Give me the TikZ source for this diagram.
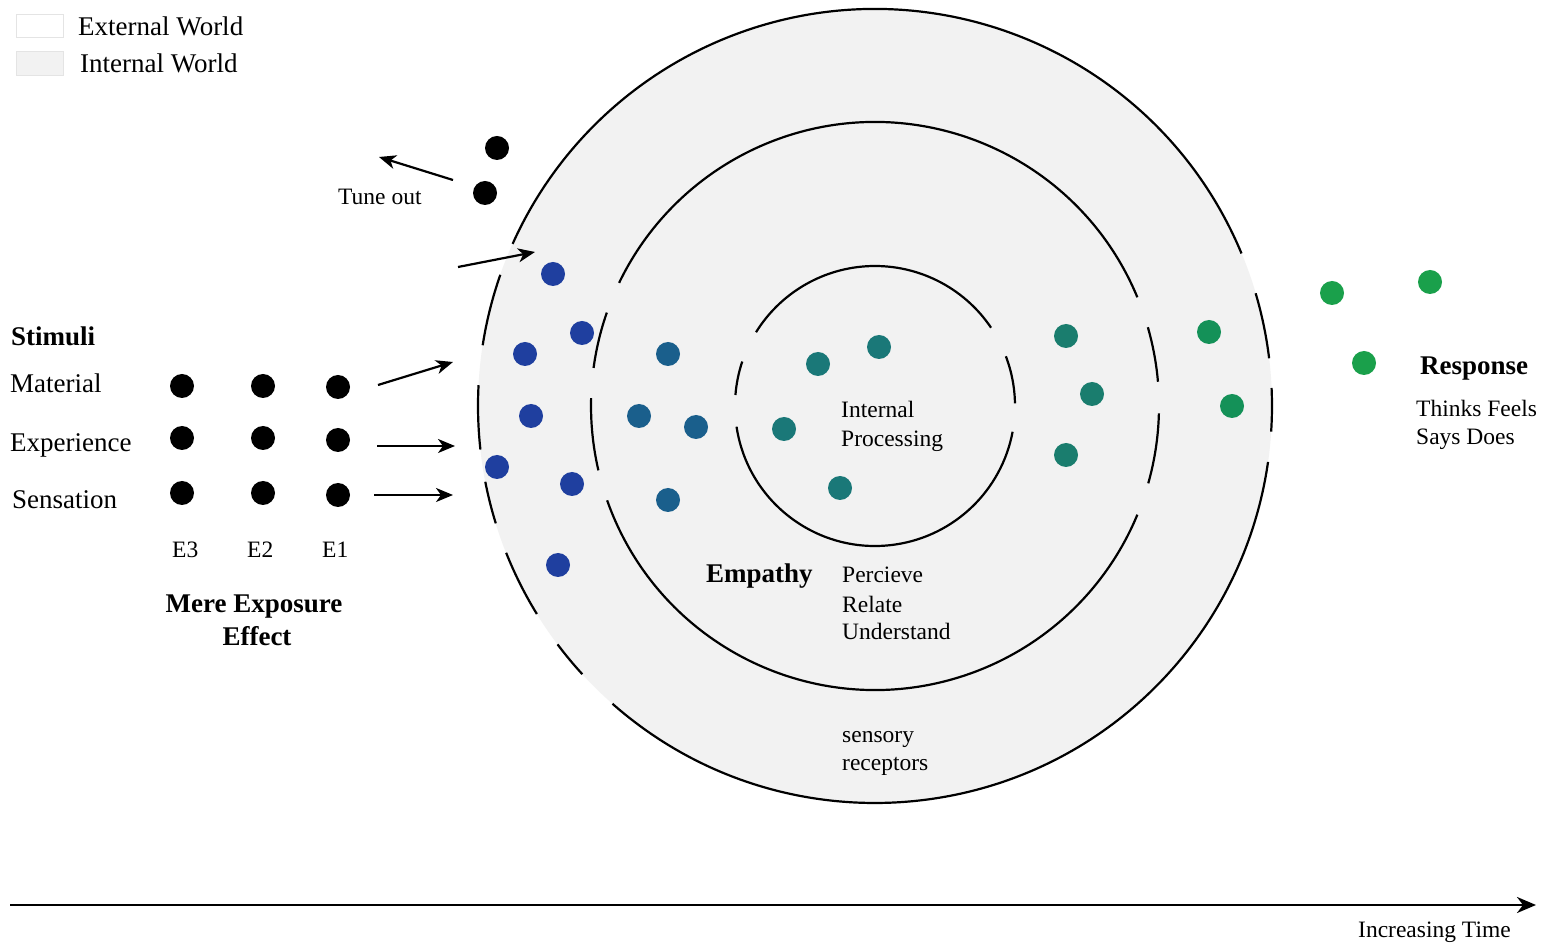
\documentclass[tikz,border=0pt]{standalone}
\usepackage{fontspec}
\setmainfont{Liberation Serif}
\usetikzlibrary{arrows.meta}
\definecolor{ingray}{HTML}{F2F2F2}
\definecolor{legline}{HTML}{E4E4E4}
\definecolor{cblue}{HTML}{1F3F9F}
\definecolor{cmblue}{HTML}{1A5F8C}
\definecolor{cteal}{HTML}{1A7878}
\definecolor{cgteal}{HTML}{1A7D6E}
\definecolor{cgreen}{HTML}{149158}
\definecolor{cbright}{HTML}{1AA04B}
\newcommand{\bigtxt}{\fontsize{27}{32}\selectfont}
\newcommand{\smalltxt}{\fontsize{23.5}{28}\selectfont}
\tikzset{
  dot/.style={circle, fill=#1, minimum size=24pt, inner sep=0pt},
  ring/.style={line width=2.2pt, black},
  arr/.style={line width=2.2pt, -{Stealth[length=17pt,width=14pt,inset=5pt]}},
  lbl/.style={inner sep=0pt, anchor=base west, font=\smalltxt},
  biglbl/.style={inner sep=0pt, anchor=base west, font=\bigtxt},
  boldlbl/.style={inner sep=0pt, anchor=base west, font=\bigtxt\bfseries},
}
\begin{document}
\begin{tikzpicture}[x=1pt,y=1pt]
\useasboundingbox (0,0) rectangle (1542,946);
\fill[white] (0,0) rectangle (1542,946);
\coordinate (C) at (875,540);
% internal world fill
\fill[ingray] (C) circle[radius=397pt];
% outer ring
\foreach \a/\b in {22.6/155.9, 160.7/171.2, 177/186.3, 191/197.2, 201.7/211.6, 216.9/222.5, 228.6/351.9, 356.3/362.6, 6.9/16.5}
  \draw[ring] (C) ++(\a:397pt) arc[start angle=\a, end angle=\b, radius=397pt];
% middle ring
\foreach \a/\b in {22.5/154.3, 160.8/172.3, 178.4/193.1, 199.4/337.5, 344.2/358.5, 4.9/16.1}
  \draw[ring] (C) ++(\a:284pt) arc[start angle=\a, end angle=\b, radius=284pt];
% inner ring
\foreach \a/\b in {34/148.2, 161.5/175.5, 188.5/349.4, 1.1/20.8}
  \draw[ring] (C) ++(\a:140pt) arc[start angle=\a, end angle=\b, radius=140pt];

% legend
\node[draw=legline, line width=1pt, fill=white, minimum width=47pt, minimum height=23pt, inner sep=0pt, anchor=south west] (legext) at (16,908) {};
\node[draw=legline, line width=1pt, fill=ingray, minimum width=47pt, minimum height=24pt, inner sep=0pt, anchor=south west] (legint) at (16,870) {};
\node[biglbl] (tExt) at (78,910) {External World};
\node[biglbl] (tInt) at (80,873) {Internal World};

% black stimuli dots
\node[dot=black] (to1) at (497,798) {};
\node[dot=black] (to2) at (485,753) {};
\node[dot=black] (m3) at (182,560) {};
\node[dot=black] (m2) at (263,560) {};
\node[dot=black] (m1) at (338,559) {};
\node[dot=black] (x3) at (182,508) {};
\node[dot=black] (x2) at (263,508) {};
\node[dot=black] (x1) at (338,506) {};
\node[dot=black] (s3) at (182,453) {};
\node[dot=black] (s2) at (263,453) {};
\node[dot=black] (s1) at (338,451) {};

% sensory receptor dots
\node[dot=cblue] (b1) at (553,672) {};
\node[dot=cblue] (b2) at (582,613) {};
\node[dot=cblue] (b3) at (525,592) {};
\node[dot=cblue] (b4) at (531,530) {};
\node[dot=cblue] (b5) at (497,479) {};
\node[dot=cblue] (b6) at (572,462) {};
\node[dot=cblue] (b7) at (558,381) {};
% empathy dots
\node[dot=cmblue] (c1) at (668,592) {};
\node[dot=cmblue] (c2) at (639,530) {};
\node[dot=cmblue] (c3) at (696,519) {};
\node[dot=cmblue] (c4) at (668,446) {};
% internal processing dots
\node[dot=cteal] (d1) at (818,582) {};
\node[dot=cteal] (d2) at (879,599) {};
\node[dot=cteal] (d3) at (784,517) {};
\node[dot=cteal] (d4) at (840,458) {};
% right empathy ring
\node[dot=cgteal] (e1) at (1066,610) {};
\node[dot=cgteal] (e2) at (1092,552) {};
\node[dot=cgteal] (e3) at (1066,491) {};
% right sensory ring
\node[dot=cgreen] (f1) at (1209,614) {};
\node[dot=cgreen] (f2) at (1232,540) {};
% response
\node[dot=cbright] (g1) at (1332,653) {};
\node[dot=cbright] (g2) at (1430,664) {};
\node[dot=cbright] (g3) at (1364,583) {};

% arrows
\coordinate (toA) at (453,766);
\coordinate (toB) at (379,789);
\coordinate (enA) at (458,679);
\coordinate (enB) at (535,694);
\coordinate (maA) at (378,561);
\coordinate (maB) at (453,584);
\coordinate (exA) at (377,500);
\coordinate (exB) at (455,500);
\coordinate (seA) at (374,451);
\coordinate (seB) at (453,451);
\coordinate (tA) at (10,41);
\coordinate (tB) at (1536,41);
\draw[arr] (toA) -- (toB);
\draw[arr] (enA) -- (enB);
\draw[arr] (maA) -- (maB);
\draw[arr] (exA) -- (exB);
\draw[arr] (seA) -- (seB);
\draw[line width=2.6pt, -{Stealth[length=19pt,width=16pt,inset=6pt]}] (tA) -- (tB);

% texts
\node[lbl] (tTune) at (338,741) {Tune out};
\node[boldlbl] (tStim) at (11,600) {Stimuli};
\node[biglbl] (tMat) at (10,553) {Material};
\node[biglbl] (tExp) at (10,494) {Experience};
\node[biglbl] (tSen) at (12,437) {Sensation};
\node[lbl] (tE3) at (172,388) {E3};
\node[lbl] (tE2) at (247,388) {E2};
\node[lbl] (tE1) at (322,388) {E1};
\node[inner sep=0pt, anchor=base, font=\bigtxt\bfseries] (tMere) at (254,333) {Mere Exposure};
\node[inner sep=0pt, anchor=base, font=\bigtxt\bfseries] (tEff) at (257,301) {Effect};
\node[lbl] (tIn1) at (841,528) {Internal};
\node[lbl] (tIn2) at (841,499) {Processing};
\node[boldlbl] (tEmp) at (706,363) {Empathy};
\node[lbl] (tP1) at (842,363) {Percieve};
\node[lbl] (tP2) at (842,334) {Relate};
\node[lbl] (tP3) at (842,306) {Understand};
\node[lbl] (tS1) at (842,204) {sensory};
\node[lbl] (tS2) at (842,176) {receptors};
\node[boldlbl] (tResp) at (1420,571) {Response};
\node[lbl] (tR1) at (1416,529) {Thinks Feels};
\node[lbl] (tR2) at (1416,501) {Says Does};
\node[lbl] (tTime) at (1358,9) {Increasing Time};
\end{tikzpicture}
\end{document}
